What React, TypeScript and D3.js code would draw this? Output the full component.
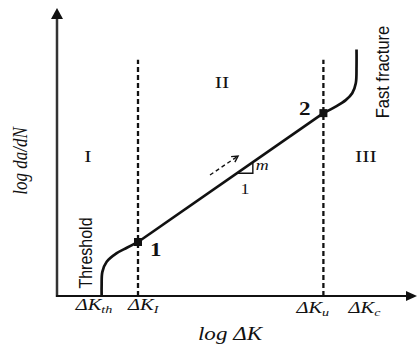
import React from 'react';
import * as d3 from 'd3';

// characteristic stress intensity ranges (log units along the x axis)
const kTh = 1.24;
const kI = 2.25;
const kU = 7.4;
const kC = 8.32;

// crack growth curve
const thresholdX = [1.24, 1.24, 1.26, 1.38, 1.66, 1.94, 2.25];
const thresholdY = [0, 0.31, 0.67, 0.95, 1.19, 1.34, 1.5];
const parisX = [2.25, 7.4];
const parisY = [1.5, 5.08];
const fractureX = [7.4, 7.74, 8.02, 8.2, 8.3, 8.32, 8.32];
const fractureY = [5.08, 5.26, 5.44, 5.63, 5.91, 6.37, 6.85];

const tickValues = [kTh, kI, kU, kC];
const tickSubs = ['th', 'I', 'u', 'c'];

const regionNames = ['I', 'II', 'III'];
const regionX = [0.86, 4.58, 8.58];
const regionY = [3.72, 5.78, 3.72];

const boundaryX = [kI, kU];
const boundaryTop = 6.56;

// slope triangle and growth direction arrow
const slopeX = [5.0, 5.44];
const arrowX = [4.25, 5.03];
const arrowY = [3.36, 3.89];

const width = 417;
const height = 349;
const SX = 1.28; // figure text is stretched horizontally
const serif = '"Liberation Serif", "Times New Roman", serif';
const sans = '"Liberation Sans", Arial, sans-serif';
const ink = '#111';

const pts = (xs: number[], ys: number[]) => xs.map((v, i) => [v, ys[i]] as [number, number]);

export default function App() {
  const x = d3.scaleLinear().domain([0, 10]).range([57, 417]);
  const y = d3.scaleLinear().domain([0, 8]).range([296, 8]);

  const smooth = d3.line<[number, number]>()
    .x(d => x(d[0]))
    .y(d => y(d[1]))
    .curve(d3.curveCatmullRom.alpha(0.5));
  const straight = d3.line<[number, number]>()
    .x(d => x(d[0]))
    .y(d => y(d[1]));

  const slope = (parisY[1] - parisY[0]) / (parisX[1] - parisX[0]);
  const onLine = (v: number) => parisY[0] + (v - parisX[0]) * slope;
  const tri: [number, number][] = [
    [slopeX[0], onLine(slopeX[0])],
    [slopeX[1], onLine(slopeX[0])],
    [slopeX[1], onLine(slopeX[1])],
  ];

  const ax0 = x(arrowX[0]), ay0 = y(arrowY[0]);
  const ax1 = x(arrowX[1]), ay1 = y(arrowY[1]);
  const ang = Math.atan2(ay1 - ay0, ax1 - ax0);
  const head = (a: number) => [ax1 - 7 * Math.cos(ang + a), ay1 - 7 * Math.sin(ang + a)];
  const h1 = head(0.5), h2 = head(-0.5);

  const p1 = [x(parisX[0]), y(parisY[0])];
  const p2 = [x(parisX[1]), y(parisY[1])];
  const nudges = [-26, -10, -27, -8];
  const tickBase = [310, 310, 313, 313];

  return (
    <svg width={width} height={height} style={{ position: 'absolute', left: 0, top: 0, background: '#fff' }}>
      {/* axes */}
      <line x1={x(0)} y1={y(0) + 1} x2={x(0)} y2={y(8) + 8} stroke="#333" strokeWidth={2.5} />
      <path d={`M${x(0)},${y(8)} L${x(0) - 6},${y(8) + 11} L${x(0) + 6},${y(8) + 11} Z`} fill={ink} />
      <line x1={x(0) - 1} y1={y(0)} x2={x(10) - 9} y2={y(0)} stroke={ink} strokeWidth={2} />
      <path d={`M${x(10)},${y(0)} L${x(10) - 11},${y(0) - 5} L${x(10) - 11},${y(0) + 5} Z`} fill={ink} />

      {/* region boundaries */}
      {boundaryX.map((b, i) => (
        <line key={i} x1={x(b)} x2={x(b)} y1={y(0)} y2={y(boundaryTop)}
          stroke={ink} strokeWidth={2.3} strokeDasharray="5 3" />
      ))}

      {/* crack growth curve */}
      <path d={smooth(pts(thresholdX, thresholdY)) || ''} fill="none" stroke={ink} strokeWidth={2.7} />
      <path d={straight(pts(parisX, parisY)) || ''} fill="none" stroke={ink} strokeWidth={2.7} />
      <path d={smooth(pts(fractureX, fractureY)) || ''} fill="none" stroke={ink} strokeWidth={2.7} />
      <rect x={p1[0] - 4} y={p1[1] - 4} width={8} height={8} fill={ink} />
      <rect x={p2[0] - 4} y={p2[1] - 4} width={8} height={8} fill={ink} />

      {/* slope triangle */}
      <path d={(straight(tri) || '')} fill="none" stroke={ink} strokeWidth={1.4} />
      <line x1={ax0} y1={ay0} x2={ax1} y2={ay1} stroke={ink} strokeWidth={1.4} strokeDasharray="4 3" />
      <path d={`M${h1[0]},${h1[1]} L${ax1},${ay1} L${h2[0]},${h2[1]}`} fill="none" stroke={ink} strokeWidth={1.4} />
      <text transform={`translate(${x(slopeX[1]) + 3},${y(onLine(slopeX[0])) - 3}) scale(${SX},1)`}
        fontFamily={serif} fontStyle="italic" fontSize={14} fill={ink}>m</text>
      <text transform={`translate(${x((slopeX[0] + slopeX[1]) / 2)},${y(onLine(slopeX[0])) + 21}) scale(${SX},1)`}
        fontFamily={serif} fontSize={14} fill={ink} textAnchor="middle">1</text>

      {/* point labels */}
      <text transform={`translate(${p1[0] + 12},${p1[1] + 14}) scale(${SX},1)`}
        fontFamily={serif} fontWeight="bold" fontSize={18} fill={ink}>1</text>
      <text transform={`translate(${p2[0] - 13},${p2[1] + 2}) scale(${SX},1)`}
        fontFamily={serif} fontWeight="bold" fontSize={18} fill={ink} textAnchor="end">2</text>

      {/* region labels */}
      {regionNames.map((r, i) => (
        <text key={r} transform={`translate(${x(regionX[i])},${y(regionY[i])}) scale(${SX},1)`}
          fontFamily={serif} fontSize={17} fill={ink} textAnchor="middle">{r}</text>
      ))}

      {/* rotated annotations */}
      <text transform={`translate(92,253) scale(1.15,1) rotate(-90)`}
        fontFamily={sans} fontSize={16} fill={ink} textAnchor="middle">Threshold</text>
      <text transform={`translate(389,72) scale(1.15,1) rotate(-90)`}
        fontFamily={sans} fontSize={16.5} fill={ink} textAnchor="middle">Fast fracture</text>
      <text transform={`translate(27,161) scale(${SX},1) rotate(-90)`}
        fontFamily={serif} fontStyle="italic" fontSize={17} fill={ink} textAnchor="middle">log da/dN</text>

      {/* x tick labels */}
      {tickValues.map((t, i) => (
        <text key={i} transform={`translate(${x(t) + nudges[i]},${tickBase[i]}) scale(${SX},1)`}
          fontFamily={serif} fontStyle="italic" fontSize={16} fill={ink}>
          ΔK<tspan fontSize={11} dy={3}>{tickSubs[i]}</tspan>
        </text>
      ))}
      <text transform={`translate(230,340) scale(${SX},1)`}
        fontFamily={serif} fontStyle="italic" fontSize={18} fill={ink} textAnchor="middle">log ΔK</text>
    </svg>
  );
}
